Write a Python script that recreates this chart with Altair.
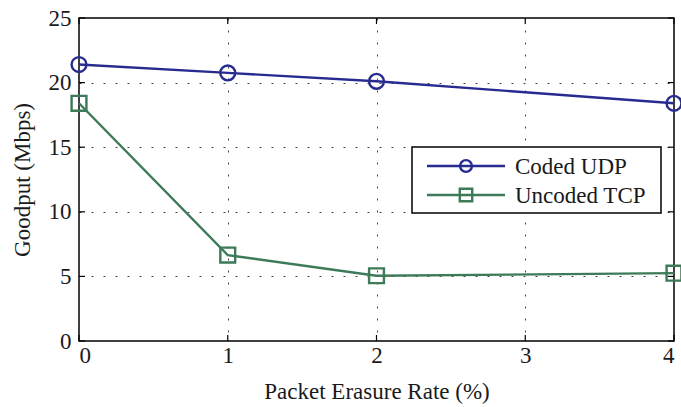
import altair as alt
import pandas as pd

# Goodput versus packet erasure rate
erasure_rate = [0, 1, 2, 4]
coded_udp = [21.4, 20.75, 20.1, 18.4]
uncoded_tcp = [18.4, 6.65, 5.05, 5.25]

series_names = ["Coded UDP", "Uncoded TCP"]
series_colors = ["#272a8f", "#3d7a57"]
series_shapes = ["circle", "square"]

x_ticks = [0, 1, 2, 3, 4]
y_ticks = [0, 5, 10, 15, 20, 25]

FONT = "Liberation Serif"
W, H = 595, 323

rows = []
for name, vals in zip(series_names, [coded_udp, uncoded_tcp]):
    for x, y in zip(erasure_rate, vals):
        rows.append({"rate": x, "goodput": y, "series": name})
df = pd.DataFrame(rows)

color_scale = alt.Scale(domain=series_names, range=series_colors)
shape_scale = alt.Scale(domain=series_names, range=series_shapes)

x_enc = alt.X(
    "rate:Q",
    scale=alt.Scale(domain=[0, 4], nice=False),
    axis=alt.Axis(
        values=x_ticks, title="Packet Erasure Rate (%)", format="d",
        grid=True, gridDash=[2, 10], gridColor="#444", gridWidth=1,
        domain=False, ticks=False, tickSize=0, labelPadding=3,
        labelFont=FONT, labelFontSize=23, labelColor="#1a1a1a",
        titleFont=FONT, titleFontSize=23, titleFontWeight="normal",
        titleColor="#1a1a1a", titleBaseline="alphabetic", titleY=57,
    ),
)
y_enc = alt.Y(
    "goodput:Q",
    scale=alt.Scale(domain=[0, 25], nice=False),
    axis=alt.Axis(
        values=y_ticks, title="Goodput (Mbps)", format="d",
        grid=True, gridDash=[2, 10], gridColor="#444", gridWidth=1,
        domain=False, ticks=False, tickSize=0, labelPadding=8,
        labelFont=FONT, labelFontSize=23, labelColor="#1a1a1a",
        titleFont=FONT, titleFontSize=23, titleFontWeight="normal",
        titleColor="#1a1a1a", titleBaseline="middle", titleX=-57,
    ),
)

base = alt.Chart(df)
lines = base.mark_line(strokeWidth=2.4).encode(
    x=x_enc, y=y_enc,
    color=alt.Color("series:N", scale=color_scale, legend=None),
    detail="series:N",
)
points = base.mark_point(filled=False, strokeWidth=2.4, size=220, opacity=1).encode(
    x="rate:Q", y="goodput:Q",
    color=alt.Color("series:N", scale=color_scale, legend=None),
    shape=alt.Shape("series:N", scale=shape_scale, legend=None),
)

# Inward tick marks on all four sides of the box
xt = alt.Chart(pd.DataFrame({"rate": x_ticks}))
yt = alt.Chart(pd.DataFrame({"goodput": y_ticks}))
tick_style = dict(color="#000", strokeWidth=1.2)
ticks = [
    xt.mark_rule(**tick_style).encode(x="rate:Q", y=alt.value(H), y2=alt.value(H - 6)),
    xt.mark_rule(**tick_style).encode(x="rate:Q", y=alt.value(0), y2=alt.value(6)),
    yt.mark_rule(**tick_style).encode(y="goodput:Q", x=alt.value(0), x2=alt.value(6)),
    yt.mark_rule(**tick_style).encode(y="goodput:Q", x=alt.value(W), x2=alt.value(W - 6)),
]

# Legend box with line-and-marker samples
one = alt.Chart(pd.DataFrame({"k": [0]}))
legend_layers = [
    one.mark_rect(fill="white", stroke="#000", strokeWidth=1.5).encode(
        x=alt.value(333), x2=alt.value(582), y=alt.value(129), y2=alt.value(195)
    )
]
row_y = [148, 177]
for name, col, shp, ry in zip(series_names, series_colors, series_shapes, row_y):
    legend_layers.append(
        one.mark_rule(color=col, strokeWidth=2.4).encode(
            x=alt.value(348), x2=alt.value(426), y=alt.value(ry)
        )
    )
    legend_layers.append(
        one.mark_point(shape=shp, filled=False, color=col, strokeWidth=2.4,
                       size=140 if shp == "circle" else 155, opacity=1).encode(
            x=alt.value(387), y=alt.value(ry)
        )
    )
    legend_layers.append(
        alt.Chart(pd.DataFrame({"label": [name]})).mark_text(
            font=FONT, fontSize=23, color="#1a1a1a", align="left", baseline="middle"
        ).encode(x=alt.value(436), y=alt.value(ry + 1), text="label:N")
    )

chart = alt.layer(lines, points, *ticks, *legend_layers).properties(
    width=W, height=H,
    background="white",
    autosize=alt.AutoSizeParams(type="none"),
    padding={"left": 79, "top": 18, "right": 7, "bottom": 66},
).configure_view(stroke="#000", strokeWidth=1.5)

chart.save("out.html", embed_options={"renderer": "svg", "actions": False})
